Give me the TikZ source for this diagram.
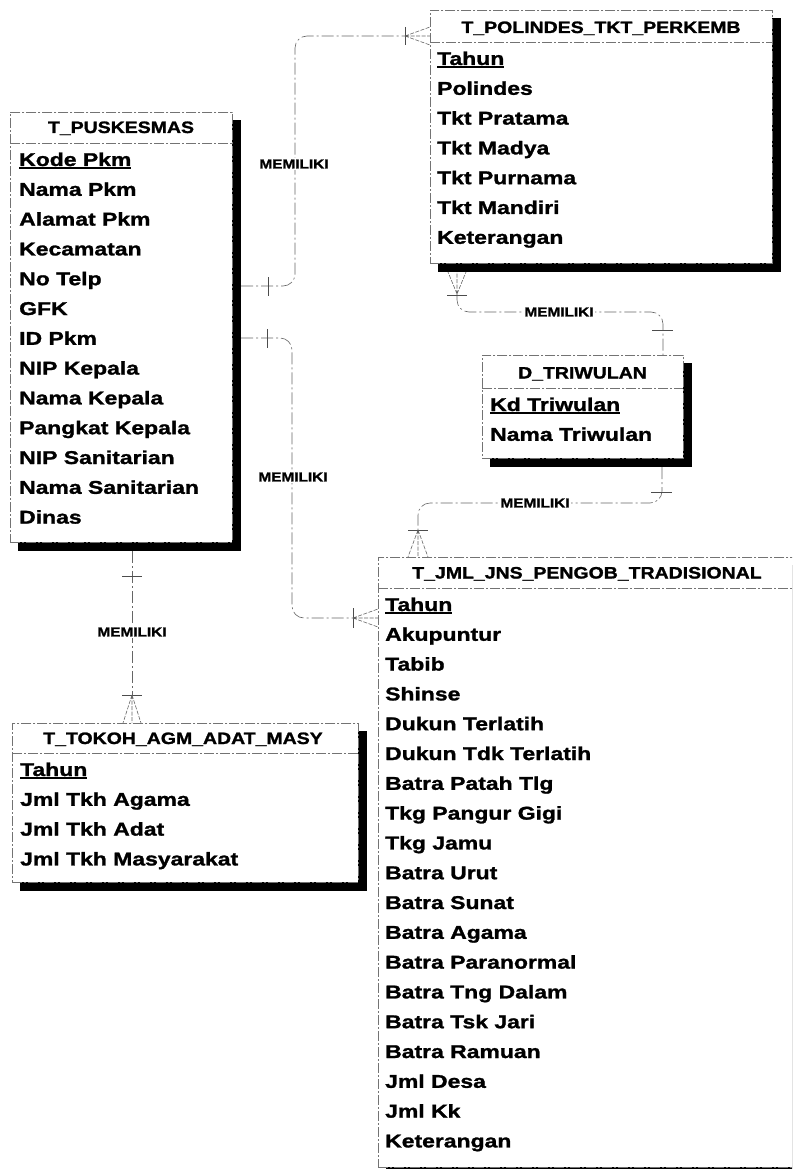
\documentclass[tikz,border=0pt]{standalone}
\usepackage{fontspec}
\setmainfont{Liberation Sans}[FakeStretch=1.18,FakeBold=1.4]
\newfontfamily\fldfont{Liberation Sans}[FakeStretch=1.24,FakeBold=1.4]
\newcommand\pkul[1]{\setbox0\hbox{#1}\rlap{\rule[-2.6pt]{\wd0}{1.5pt}}\box0}
\begin{document}
\begin{tikzpicture}[x=1pt,y=-1pt,
  tbl/.style={draw=black!55, line width=0.7pt, dash pattern=on 10pt off 2pt on 2pt off 2pt,
    fill=white, rectangle, anchor=north west, inner sep=0pt},
  shad/.style={fill=black},
  sepl/.style={draw=black!55, line width=0.7pt, dash pattern=on 10pt off 2pt on 2pt off 2pt},
  ttl/.style={font=\fontsize{16.5}{18}\selectfont\bfseries, inner sep=0pt, anchor=base},
  fld/.style={font=\fldfont\fontsize{18.5}{20}\selectfont\bfseries, inner sep=0pt, anchor=base west},
  conn/.style={draw=black!60, line width=0.6pt, dash pattern=on 12pt off 3pt on 2pt off 3pt},
  crow/.style={draw=black!60, line width=0.6pt, dash pattern=on 4pt off 1.5pt},
  barmark/.style={draw=black!70, line width=0.6pt},
  rel/.style={font=\fontsize{13}{14}\selectfont\bfseries, fill=white, inner sep=1.5pt}]
\useasboundingbox (0,0) rectangle (792,1169);
\clip (0,0) rectangle (792,1169);
\fill[white] (0,0) rectangle (792,1169);

% ---------- shadows ----------
\fill[shad] (18,120) rectangle (241,551);
\fill[shad] (438,18) rectangle (781,272);
\fill[shad] (490,363) rectangle (692,467);
\fill[shad] (386,565) rectangle (804,1175);
\fill[shad] (20,731) rectangle (367,891);

% ---------- T_PUSKESMAS ----------
\node[tbl, minimum width=222pt, minimum height=430pt] (pusk) at (10,112) {};
\draw[sepl] (10,143) -- (232,143);
\node[ttl] (pusk-t) at (121,133) {T\_PUSKESMAS};
\node[fld] (pk0) at (19,166) {\pkul{Kode Pkm}};
\foreach \t [count=\i from 1] in {Nama Pkm,Alamat Pkm,Kecamatan,No Telp,GFK,ID Pkm,NIP Kepala,Nama Kepala,Pangkat Kepala,NIP Sanitarian,Nama Sanitarian,Dinas}
  \node[fld] (pk\i) at (19,166+29.8*\i) {\t};

% ---------- T_POLINDES_TKT_PERKEMB ----------
\node[tbl, minimum width=342pt, minimum height=253pt] (pol) at (430,10) {};
\draw[sepl] (430,42) -- (772,42);
\node[ttl] (pol-t) at (601,33) {T\_POLINDES\_TKT\_PERKEMB};
\node[fld] (po0) at (437,65) {\pkul{Tahun}};
\foreach \t [count=\i from 1] in {Polindes,Tkt Pratama,Tkt Madya,Tkt Purnama,Tkt Mandiri,Keterangan}
  \node[fld] (po\i) at (437,65+29.8*\i) {\t};

% ---------- D_TRIWULAN ----------
\node[tbl, minimum width=201pt, minimum height=103pt] (tri) at (482,355) {};
\draw[sepl] (482,388) -- (683,388);
\node[ttl] (tri-t) at (582.5,378.5) {D\_TRIWULAN};
\node[fld] (tr0) at (490,411) {\pkul{Kd Triwulan}};
\node[fld] (tr1) at (490,440.8) {Nama Triwulan};

% ---------- T_JML_JNS_PENGOB_TRADISIONAL ----------
\node[tbl, minimum width=418pt, minimum height=610pt] (jml) at (378,557) {};
\draw[sepl] (378,588) -- (796,588);
\node[ttl] (jml-t) at (587,578.5) {T\_JML\_JNS\_PENGOB\_TRADISIONAL};
\node[fld] (jm0) at (385,611) {\pkul{Tahun}};
\foreach \t [count=\i from 1] in {Akupuntur,Tabib,Shinse,Dukun Terlatih,Dukun Tdk Terlatih,Batra Patah Tlg,Tkg Pangur Gigi,Tkg Jamu,Batra Urut,Batra Sunat,Batra Agama,Batra Paranormal,Batra Tng Dalam,Batra Tsk Jari,Batra Ramuan,Jml Desa,Jml Kk,Keterangan}
  \node[fld] (jm\i) at (385,611+29.8*\i) {\t};

% ---------- T_TOKOH_AGM_ADAT_MASY ----------
\node[tbl, minimum width=346pt, minimum height=159pt] (tok) at (12,723) {};
\draw[sepl] (12,753) -- (358,753);
\node[ttl] (tok-t) at (183,744) {T\_TOKOH\_AGM\_ADAT\_MASY};
\node[fld] (to0) at (20,776) {\pkul{Tahun}};
\foreach \t [count=\i from 1] in {Jml Tkh Agama,Jml Tkh Adat,Jml Tkh Masyarakat}
  \node[fld] (to\i) at (20,776+29.8*\i) {\t};

% ---------- connectors ----------
% C1 : PUSKESMAS -> POLINDES
\coordinate (c1s) at (241,286);
\coordinate (c1e) at (405,36);
\draw[conn, rounded corners=12] (c1s) -- (295,286) -- (295,36) -- (c1e);
\draw[barmark] (268,277) -- (268,296);
\draw[barmark] (405,27) -- (405,45);
\draw[crow] (c1e) -- (pol.west |- 0,27) (c1e) -- (pol.west |- 0,36) (c1e) -- (pol.west |- 0,45);
\node[rel] (r1) at (294,164) {MEMILIKI};

% C2 : PUSKESMAS -> JML
\coordinate (c2s) at (241,338);
\coordinate (c2e) at (353,618);
\draw[conn, rounded corners=12] (c2s) -- (292,338) -- (292,618) -- (c2e);
\draw[barmark] (267,329) -- (267,348);
\draw[barmark] (353,608) -- (353,628);
\draw[crow] (c2e) -- (jml.west |- 0,609) (c2e) -- (jml.west |- 0,618) (c2e) -- (jml.west |- 0,627);
\node[rel] (r2) at (293,477) {MEMILIKI};

% C3 : PUSKESMAS -> TOKOH
\coordinate (c3s) at (132,551);
\coordinate (c3e) at (132,695);
\draw[conn] (c3s) -- (c3e);
\draw[barmark] (122,576) -- (142,576);
\draw[barmark] (122,695) -- (142,695);
\draw[crow] (c3e) -- (123,723) (c3e) -- (132,723) (c3e) -- (141,723);
\node[rel] (r3) at (132,632) {MEMILIKI};

% C4 : TRIWULAN -> JML
\coordinate (c4s) at (662,467);
\coordinate (c4e) at (418,530);
\draw[conn, rounded corners=12] (c4s) -- (662,503) -- (418,503) -- (c4e);
\draw[barmark] (651,492) -- (672,492);
\draw[barmark] (408,530) -- (428,530);
\draw[crow] (c4e) -- (408,557) (c4e) -- (418,557) (c4e) -- (428,557);
\node[rel] (r4) at (535,503) {MEMILIKI};

% C5 : POLINDES -> TRIWULAN
\coordinate (c5s) at (457,294);
\coordinate (c5e) at (663,355);
\draw[conn, rounded corners=12] (c5s) -- (457,312) -- (663,312) -- (c5e);
\draw[barmark] (447,295) -- (467,295);
\draw[barmark] (652,330) -- (673,330);
\draw[crow] (c5s) -- (448,272) (c5s) -- (457,272) (c5s) -- (466,272);
\node[rel] (r5) at (559,312) {MEMILIKI};
\end{tikzpicture}
\end{document}
